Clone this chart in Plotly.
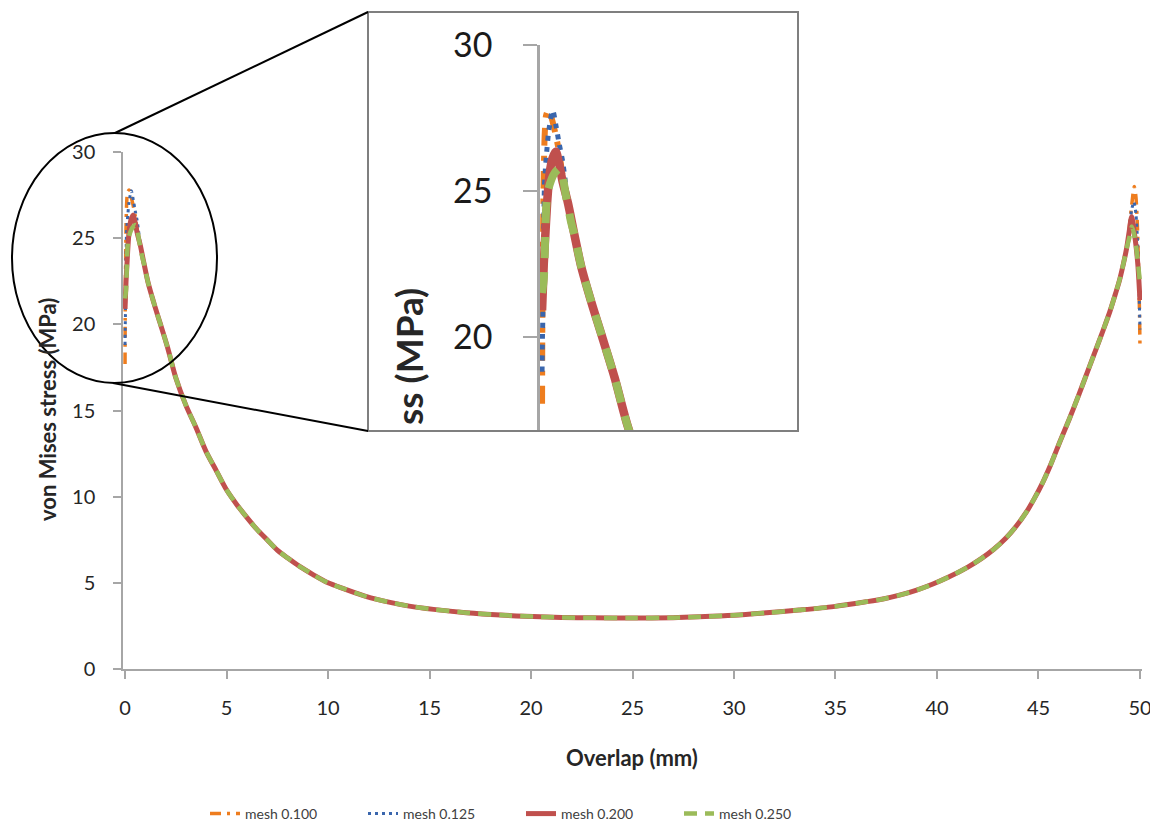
import plotly.graph_objects as go

# ---------------- data ----------------
# shared middle part of the curves (all meshes coincide there)
x_mid = [0.94, 1.14, 1.43, 1.72, 2.11, 2.5, 3.0, 3.5, 4.0, 4.5, 5.0, 5.5, 6.0, 6.5, 7.0,
         7.5, 8.0, 8.6, 9.3, 10.0, 10.8, 11.9, 13.0, 14.0, 15.2, 16.8, 18.5, 20.1, 21.5,
         23.0, 25.0, 27.0, 28.3, 30.0, 31.6, 33.2, 34.9, 36.5, 37.4, 38.2, 39.0, 39.8, 40.6,
         41.5, 42.2, 42.8, 43.4, 43.9, 44.4, 44.8, 45.2, 45.6, 46.06, 46.5, 47.0, 47.4,
         47.85, 48.2, 48.52, 48.8, 49.0, 49.2, 49.34]
y_mid = [23.5, 22.4, 21.2, 20.1, 18.6, 16.9, 15.3, 14.0, 12.6, 11.5, 10.4, 9.55, 8.8, 8.1,
         7.5, 6.9, 6.45, 5.95, 5.45, 5.0, 4.65, 4.2, 3.88, 3.65, 3.46, 3.27, 3.13, 3.04,
         2.99, 2.97, 2.96, 2.98, 3.03, 3.12, 3.26, 3.42, 3.62, 3.9, 4.08, 4.3, 4.58, 4.93, 5.35,
         5.9, 6.42, 6.95, 7.6, 8.28, 9.1, 9.9, 10.8, 11.85, 13.2, 14.45, 15.95, 17.2,
         18.6, 19.7, 20.75, 21.8, 22.6, 23.6, 24.4]

# edge regions, per mesh
m100_left_x = [0.0, 0.01, 0.03, 0.05, 0.08, 0.12, 0.2, 0.3, 0.4, 0.5, 0.6, 0.75]
m100_left_y = [17.7, 20.9, 23.5, 25.6, 27.0, 27.6, 27.8, 27.4, 26.9, 26.3, 25.5, 24.6]
m100_right_x = [49.47, 49.6, 49.72, 49.8, 49.88, 49.94, 49.98, 50.0]
m100_right_y = [25.6, 27.0, 28.0, 27.4, 25.5, 22.8, 20.5, 18.7]

m125_left_x = [0.0, 0.01, 0.02, 0.04, 0.07, 0.1, 0.14, 0.2, 0.31, 0.41, 0.5, 0.6, 0.7, 0.8]
m125_left_y = [18.8, 19.9, 20.5, 22.6, 25.2, 25.8, 26.4, 27.1, 27.75, 27.2, 26.6, 26.0, 25.1, 24.2]
m125_right_x = [49.47, 49.6, 49.7, 49.8, 49.88, 49.93, 49.97, 50.0]
m125_right_y = [25.5, 26.7, 27.1, 26.4, 24.8, 23.0, 21.2, 19.7]

m200_left_x = [0.0, 0.05, 0.1, 0.16, 0.22, 0.3, 0.4, 0.5, 0.6, 0.75]
m200_left_y = [20.9, 22.5, 23.6, 24.8, 25.6, 26.1, 26.35, 25.9, 25.3, 24.6]
m200_right_x = [49.47, 49.59, 49.7, 49.8, 49.9, 50.0]
m200_right_y = [25.4, 26.25, 25.5, 24.6, 23.4, 21.4]

m250_left_x = [0.0, 0.05, 0.12, 0.17, 0.36, 0.52, 0.7, 0.85]
m250_left_y = [21.5, 22.0, 24.4, 25.0, 25.6, 25.77, 24.8, 23.9]
m250_right_x = [49.47, 49.6, 49.75, 49.88, 50.0]
m250_right_y = [25.0, 25.67, 25.0, 23.8, 22.4]

series_names = ["mesh 0.100", "mesh 0.125", "mesh 0.200", "mesh 0.250"]
x_ticks = [0, 5, 10, 15, 20, 25, 30, 35, 40, 45, 50]
y_ticks = [0, 5, 10, 15, 20, 25, 30]
inset_y_ticks = [20, 25, 30]

series_x = [m100_left_x + x_mid + m100_right_x,
            m125_left_x + x_mid + m125_right_x,
            m200_left_x + x_mid + m200_right_x,
            m250_left_x + x_mid + m250_right_x]
series_y = [m100_left_y + y_mid + m100_right_y,
            m125_left_y + y_mid + m125_right_y,
            m200_left_y + y_mid + m200_right_y,
            m250_left_y + y_mid + m250_right_y]

# ---------------- styles ----------------
colors = ["#EE7D1E", "#3A66AD", "#C0504D", "#9BBB59"]
main_styles = [dict(width=3.5, dash="11px,6px,3px,6px"),
               dict(width=3, dash="3px,4px"),
               dict(width=5, dash="solid"),
               dict(width=4.5, dash="13px,8px")]
inset_styles = [dict(width=6, dash="18px,10px,5px,10px"),
                dict(width=5, dash="5px,6px"),
                dict(width=8.5, dash="solid"),
                dict(width=8, dash="21px,14px")]

FONT = "Lato, 'Open Sans', sans-serif"
AX = "#a6a6a6"

fig = go.Figure()
for i in range(4):
    fig.add_trace(go.Scatter(x=series_x[i], y=series_y[i], mode="lines", name=series_names[i],
                             line=dict(color=colors[i], shape="spline", smoothing=0.8, **main_styles[i]),
                             xaxis="x", yaxis="y"))
for i in range(4):
    fig.add_trace(go.Scatter(x=series_x[i], y=series_y[i], mode="lines", name=series_names[i],
                             showlegend=False,
                             line=dict(color=colors[i], shape="spline", smoothing=0.8, **inset_styles[i]),
                             xaxis="x2", yaxis="y2"))

# page body has an 8px margin, so the figure is 8px smaller each way
W, H = 1150, 817
L, R, T, B = 115, 16, 2, 156
pw, ph = W - L - R, H - T - B
OFF = 8


def px(xp):  # reference screen px -> paper x
    return (xp - OFF - L) / pw


def py(yp):  # reference screen px -> paper y
    return (H - B - (yp - OFF)) / ph


fig.update_layout(
    width=W, height=H,
    margin=dict(l=L, r=R, t=T, b=B, autoexpand=False),
    paper_bgcolor="white", plot_bgcolor="rgba(0,0,0,0)",
    font=dict(family=FONT, color="#262626"),
    xaxis=dict(domain=[0, 1], range=[-0.1, 50.1], tickvals=x_ticks, ticks="outside", ticklen=8,
               tickwidth=1.5, tickcolor=AX, showline=True, linecolor=AX, linewidth=1.5,
               showgrid=False, zeroline=False, tickfont=dict(size=20, color="#262626"),
               ticklabelstandoff=12, anchor="y", automargin=False),
    yaxis=dict(domain=[0, py(152)], range=[0, 30], tickvals=y_ticks, ticks="outside", ticklen=8,
               tickwidth=1.5, tickcolor=AX, showline=True, linecolor=AX, linewidth=1.5,
               showgrid=False, zeroline=False, tickfont=dict(size=20, color="#262626"),
               ticklabelstandoff=14, anchor="x", automargin=False),
    xaxis2=dict(domain=[px(540), px(797)], range=[-0.06, 7.417], visible=False, anchor="y2",
                automargin=False),
    yaxis2=dict(domain=[py(430), py(45)], range=[16.8, 30], tickvals=inset_y_ticks, ticks="outside",
                ticklen=14, tickwidth=2, tickcolor=AX, showline=True, linecolor=AX, linewidth=2.5,
                showgrid=False, zeroline=False, tickfont=dict(size=34, color="#1a1a1a"),
                ticklabelstandoff=24, anchor="x2", automargin=False),
    legend=dict(orientation="h", x=px(205), xanchor="left", y=py(814), yanchor="middle",
                font=dict(size=14, color="#404040"), entrywidth=113, entrywidthmode="pixels",
                bgcolor="rgba(0,0,0,0)"),
    showlegend=True,
)

# inset frame, magnifier ellipse and connector lines
fig.add_shape(type="rect", xref="paper", yref="paper", x0=px(368), x1=px(798), y0=py(431), y1=py(12),
              line=dict(color="#7f7f7f", width=2), fillcolor="white", layer="below")
fig.add_shape(type="circle", xref="paper", yref="paper", x0=px(12), x1=px(217), y0=py(383), y1=py(133),
              line=dict(color="black", width=2), fillcolor="rgba(0,0,0,0)", layer="above")
fig.add_shape(type="line", xref="paper", yref="paper", x0=px(115), y0=py(133), x1=px(368), y1=py(12),
              line=dict(color="black", width=2), layer="above")
fig.add_shape(type="line", xref="paper", yref="paper", x0=px(113), y0=py(383), x1=px(368), y1=py(431),
              line=dict(color="black", width=2), layer="above")

# axis titles
fig.add_annotation(text="<b>Overlap (mm)</b>", xref="paper", yref="paper", x=px(632), y=py(757),
                   xanchor="center", yanchor="middle", showarrow=False,
                   font=dict(size=22, color="#262626"))
fig.add_annotation(text="<b>von Mises stress (MPa)</b>", xref="paper", yref="paper", x=px(47), y=py(410),
                   xanchor="center", yanchor="middle", textangle=-90, showarrow=False,
                   font=dict(size=22, color="#262626"))
fig.add_annotation(text="<b>ss (MPa)</b>", xref="paper", yref="paper", x=px(408), y=py(357),
                   xanchor="center", yanchor="middle", textangle=-90, showarrow=False,
                   font=dict(size=37, color="#262626"))

fig.write_html("out.html")
